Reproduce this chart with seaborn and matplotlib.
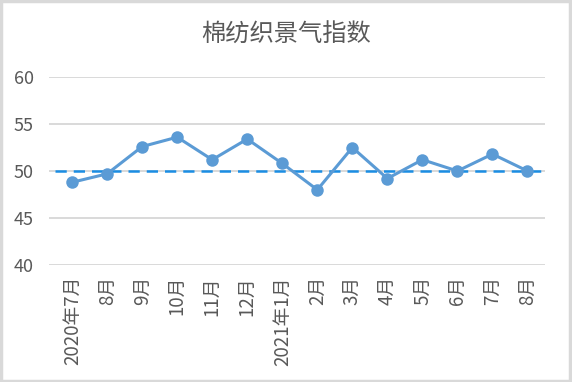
import matplotlib
matplotlib.use("Agg")
import matplotlib.pyplot as plt
import seaborn as sns
import pandas as pd
from matplotlib.patches import Rectangle

# data
months = ['2020年7月', '8月', '9月', '10月', '11月', '12月', '2021年1月',
          '2月', '3月', '4月', '5月', '6月', '7月', '8月']
index_values = [48.8, 49.7, 52.6, 53.6, 51.2, 53.4, 50.8,
                48.0, 52.5, 49.2, 51.2, 50.0, 51.8, 50.0]
threshold = 50
y_ticks = [40, 45, 50, 55, 60]

sns.set_style("white")
plt.rcParams['font.family'] = ['Noto Sans CJK SC', 'DejaVu Sans']

df = pd.DataFrame({'pos': range(len(months)), 'value': index_values})

fig = plt.figure(figsize=(5.72, 3.82), dpi=100)
ax = fig.add_axes([49 / 572, 1 - 265 / 382, (545 - 49) / 572, (265 - 77) / 382])

# grid lines
for t in y_ticks:
    ax.axhline(t, color='#D9D9D9', lw=1.4, zorder=0)

# the 50 reference line
ax.hlines(threshold, -0.5, len(months) - 0.5, colors='#1B8DE3', lw=1.8,
          linestyles=(0, (4.5, 2.8)), zorder=2)

sns.lineplot(data=df, x='pos', y='value', color='#5B9BD5', lw=2.2,
             marker='o', markersize=9, markeredgewidth=0, ax=ax, zorder=3)

ax.set_xlim(-0.66, len(months) - 0.5)
ax.set_ylim(40, 60)
ax.set_yticks(y_ticks)
ax.set_xticks(range(len(months)))
ax.set_xticklabels(months, rotation=90)
ax.tick_params(axis='y', length=0, labelsize=13, labelcolor='#595959', pad=11)
ax.tick_params(axis='x', length=0, labelsize=13.5, labelcolor='#595959', pad=8)
ax.set_xlabel('')
ax.set_ylabel('')
for s in ax.spines.values():
    s.set_visible(False)

fig.text(0.5, 1 - 35 / 382, '棉纺织景气指数', ha='center', va='center',
         fontsize=17.5, color='#595959')

# light frame around the picture
fig.add_artist(Rectangle((0.002, 0.003), 0.994, 0.994, transform=fig.transFigure,
                         fill=False, edgecolor='#D9D9D9', lw=2.5))

fig.savefig('out.png', dpi=100)
